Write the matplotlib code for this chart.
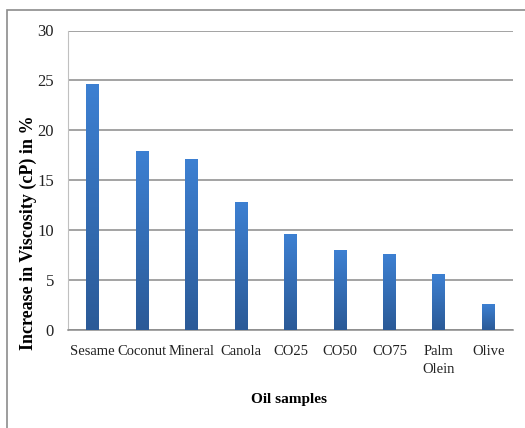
import matplotlib.pyplot as plt
import numpy as np
from matplotlib.patches import Rectangle

samples = ["Sesame", "Coconut", "Mineral", "Canola", "CO25", "CO50", "CO75",
           "Palm\nOlein", "Olive"]
increase = [24.6, 17.9, 17.1, 12.85, 9.6, 8.0, 7.6, 5.6, 2.6]
y_ticks = [0, 5, 10, 15, 20, 25, 30]

plt.rcParams['font.family'] = ['Liberation Serif', 'DejaVu Serif']

W, H = 525, 428
fig = plt.figure(figsize=(W / 100, H / 100), dpi=100)
ax = fig.add_axes([68 / W, 1 - 330 / H, (513 - 68) / W, (330 - 30.5) / H])

# outer chart frame
fig.patches.append(Rectangle((7 / W, -0.05), 1.1, 1 - 10 / H + 0.05,
                             transform=fig.transFigure, fill=False,
                             edgecolor='#8c8c8c', linewidth=1.2))

x = np.arange(len(samples))
bars = ax.bar(x, increase, width=0.26, color='#3a74c0', zorder=2)

# vertical blue gradient inside each bar
grad = np.linspace(0, 1, 256).reshape(-1, 1)
cmap = plt.matplotlib.colors.LinearSegmentedColormap.from_list(
    'bar', ['#2b5a97', '#3d80d2'])
for b in bars:
    x0, y0 = b.get_x(), b.get_y()
    w, h = b.get_width(), b.get_height()
    im = ax.imshow(grad, extent=(x0, x0 + w, y0, y0 + h), origin='lower',
                   cmap=cmap, aspect='auto', zorder=3)
    im.set_clip_path(b)

ax.set_xlim(-0.5, len(samples) - 0.5)
ax.set_ylim(0, 30)
ax.set_yticks(y_ticks)
ax.set_xticks(x)
ax.set_xticklabels(samples, fontsize=10.5, linespacing=1.45)
ax.tick_params(axis='both', length=0, colors='#222222')
ax.tick_params(axis='y', labelsize=12, pad=10)
ax.tick_params(axis='x', pad=11)
ax.grid(axis='y', color='#8a8a8a', linewidth=1.1, zorder=0)
ax.set_axisbelow(True)

for side in ['top', 'right']:
    ax.spines[side].set_visible(False)
ax.spines['left'].set_color('#c0c0c0')
ax.spines['bottom'].set_color('#8a8a8a')
ax.spines['bottom'].set_linewidth(1.1)

fig.text(289 / W, 1 - 400 / H, "Oil samples", ha='center', va='center',
         fontsize=11, fontweight='bold')
fig.text(28 / W, 1 - 233 / H, "Increase in Viscosity (cP) in %", ha='center',
         va='center', rotation=90, fontsize=13, fontweight='bold')

fig.savefig("out.png", dpi=100)
